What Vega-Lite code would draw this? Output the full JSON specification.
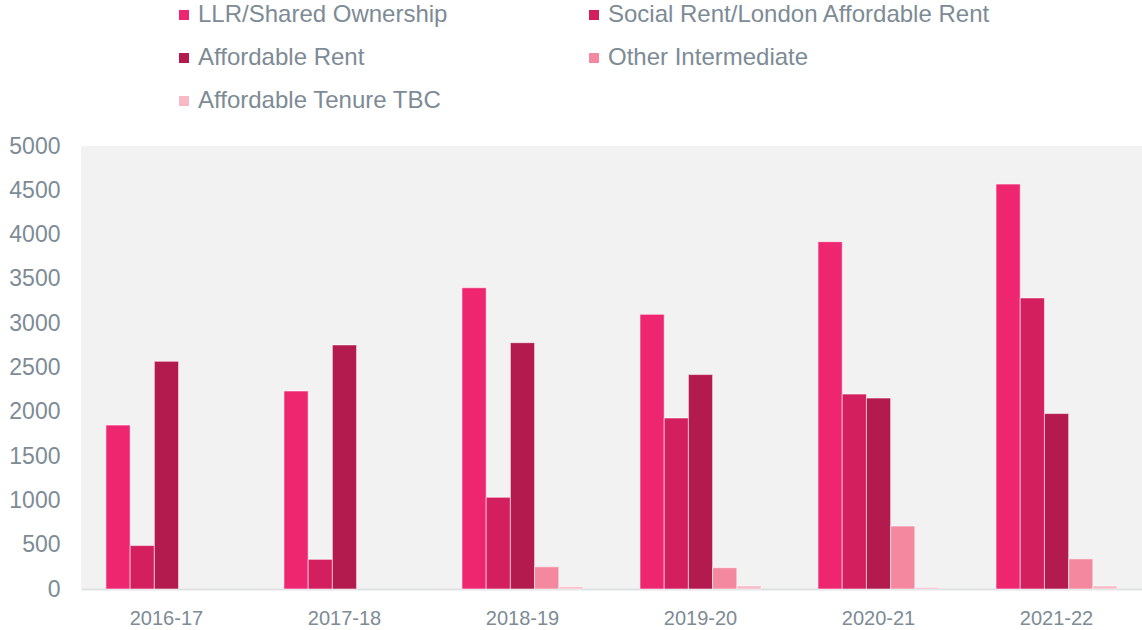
{
  "$schema": "https://vega.github.io/schema/vega-lite/v6.json",
  "width": 1061,
  "height": 443,
  "autosize": "none",
  "padding": {"left": 81, "top": 146, "right": 0, "bottom": 41},
  "background": "#ffffff",
  "config": {
    "view": {"fill": "#f2f2f2", "stroke": null},
    "font": "Liberation Sans"
  },
  "data": {
    "values": [
      {"year": "2016-17", "tenure": "LLR/Shared Ownership", "units": 1850},
      {"year": "2016-17", "tenure": "Social Rent/London Affordable Rent", "units": 490},
      {"year": "2016-17", "tenure": "Affordable Rent", "units": 2570},
      {"year": "2017-18", "tenure": "LLR/Shared Ownership", "units": 2235},
      {"year": "2017-18", "tenure": "Social Rent/London Affordable Rent", "units": 335},
      {"year": "2017-18", "tenure": "Affordable Rent", "units": 2755},
      {"year": "2018-19", "tenure": "LLR/Shared Ownership", "units": 3400},
      {"year": "2018-19", "tenure": "Social Rent/London Affordable Rent", "units": 1035},
      {"year": "2018-19", "tenure": "Affordable Rent", "units": 2780},
      {"year": "2018-19", "tenure": "Other Intermediate", "units": 250},
      {"year": "2018-19", "tenure": "Affordable Tenure TBC", "units": 25},
      {"year": "2019-20", "tenure": "LLR/Shared Ownership", "units": 3100},
      {"year": "2019-20", "tenure": "Social Rent/London Affordable Rent", "units": 1930},
      {"year": "2019-20", "tenure": "Affordable Rent", "units": 2420},
      {"year": "2019-20", "tenure": "Other Intermediate", "units": 240},
      {"year": "2019-20", "tenure": "Affordable Tenure TBC", "units": 35},
      {"year": "2020-21", "tenure": "LLR/Shared Ownership", "units": 3920},
      {"year": "2020-21", "tenure": "Social Rent/London Affordable Rent", "units": 2200},
      {"year": "2020-21", "tenure": "Affordable Rent", "units": 2155},
      {"year": "2020-21", "tenure": "Other Intermediate", "units": 710},
      {"year": "2020-21", "tenure": "Affordable Tenure TBC", "units": 18},
      {"year": "2021-22", "tenure": "LLR/Shared Ownership", "units": 4570},
      {"year": "2021-22", "tenure": "Social Rent/London Affordable Rent", "units": 3285},
      {"year": "2021-22", "tenure": "Affordable Rent", "units": 1980},
      {"year": "2021-22", "tenure": "Other Intermediate", "units": 340},
      {"year": "2021-22", "tenure": "Affordable Tenure TBC", "units": 35}
    ]
  },
  "mark": {"type": "bar", "stroke": "#ffffff", "strokeOpacity": 0.55, "strokeWidth": 1},
  "encoding": {
    "x": {
      "field": "year",
      "type": "nominal",
      "sort": null,
      "title": null,
      "scale": {"paddingInner": 0.32, "paddingOuter": 0.14},
      "axis": {
        "labelAngle": 0,
        "labelFontSize": 20,
        "labelColor": "#7d8b96",
        "labelPadding": 19,
        "ticks": false,
        "domainColor": "#dde1e4",
        "domainWidth": 2
      }
    },
    "xOffset": {
      "field": "tenure",
      "type": "nominal",
      "scale": {"domain": ["LLR/Shared Ownership", "Social Rent/London Affordable Rent", "Affordable Rent", "Other Intermediate", "Affordable Tenure TBC"], "paddingInner": 0, "paddingOuter": 0}
    },
    "y": {
      "field": "units",
      "type": "quantitative",
      "title": null,
      "scale": {"domain": [0, 5000], "nice": false},
      "axis": {
        "values": [0, 500, 1000, 1500, 2000, 2500, 3000, 3500, 4000, 4500, 5000],
        "format": "d",
        "grid": false,
        "ticks": false,
        "domain": false,
        "labelFontSize": 23,
        "labelColor": "#7d8b96",
        "labelPadding": 21
      }
    },
    "color": {
      "field": "tenure",
      "type": "nominal",
      "title": null,
      "scale": {
        "domain": ["LLR/Shared Ownership", "Affordable Rent", "Affordable Tenure TBC", "Social Rent/London Affordable Rent", "Other Intermediate"],
        "range": ["#ee2670", "#b31a4e", "#f8b8c4", "#d31f5e", "#f3889e"]
      },
      "legend": {
        "orient": "none",
        "legendX": 91,
        "legendY": -143,
        "columns": 2,
        "columnPadding": 134,
        "rowPadding": 19,
        "symbolType": "square",
        "symbolSize": 100,
        "symbolStrokeWidth": 0,
        "labelFontSize": 24,
        "labelColor": "#7d8b96",
        "labelOffset": 2,
        "labelLimit": 500
      }
    }
  }
}
